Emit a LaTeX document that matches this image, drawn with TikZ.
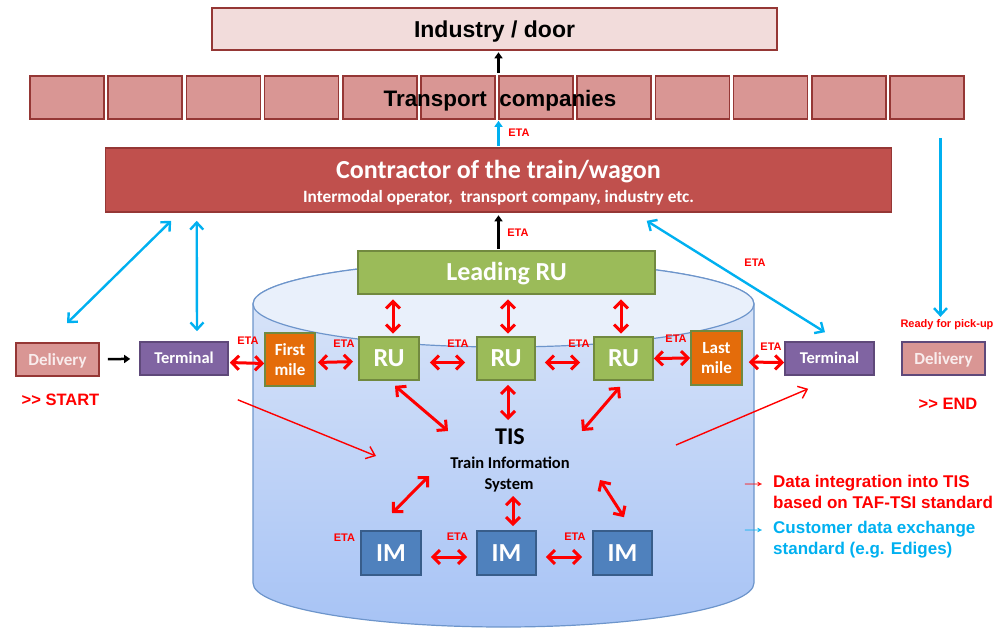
\documentclass[tikz,border=0pt]{standalone}
\usepackage{fontspec}
\usepackage{graphicx}
\setmainfont{Liberation Sans}
\newfontfamily\calfont{Carlito}
\usetikzlibrary{arrows.meta}
\definecolor{pinkL}{HTML}{F2DCDB}
\definecolor{pinkM}{HTML}{D99694}
\definecolor{dred}{HTML}{953735}
\definecolor{cred}{HTML}{C0504D}
\definecolor{gfill}{HTML}{9BBB59}
\definecolor{gline}{HTML}{71893F}
\definecolor{ofill}{HTML}{E46C0A}
\definecolor{pfill}{HTML}{8064A2}
\definecolor{pline}{HTML}{5F497A}
\definecolor{bfill}{HTML}{4F81BD}
\definecolor{bline}{HTML}{385D8A}
\definecolor{cyanA}{HTML}{00B0F0}
\definecolor{redA}{HTML}{FF0000}
\definecolor{cylTop}{HTML}{E9F0FB}
\definecolor{cylHi}{HTML}{DDE7F9}
\definecolor{cylLo}{HTML}{A7C3F5}
\definecolor{cylLine}{HTML}{6D95CB}
\newcommand\fsz[1]{\fontsize{#1}{#1}\selectfont}
\begin{document}
\begin{tikzpicture}[x=1pt,y=-1pt,
  capht/.style={text height=#1, text depth=0pt},
  base/.style={rectangle, inner sep=0pt, line width=1.6pt, align=center},
  indbox/.style={base, fill=pinkL, draw=dred, font=\bfseries\fsz{23}, capht=16.5pt},
  tcbox/.style={base, fill=pinkM, draw=dred, minimum width=74, minimum height=43},
  contrbox/.style={base, fill=cred, draw=dred, minimum width=786, minimum height=64},
  grbox/.style={base, fill=gfill, draw=gline, text=white, font=\calfont\bfseries\fsz{26}, capht=16.7pt},
  milebox/.style={base, fill=ofill, draw=gline, text=white, minimum width=50, minimum height=53, font=\calfont\bfseries\fontsize{17}{20}\selectfont},
  termbox/.style={base, fill=pfill, draw=pline, text=white, minimum width=88, minimum height=33, font=\calfont\bfseries\fsz{16.5}, capht=10.6pt},
  delbox/.style={base, fill=pinkM, minimum width=83, minimum height=33, text=pinkL!50!white, font=\calfont\bfseries\fsz{17}, capht=11pt},
  imbox/.style={base, fill=bfill, draw=bline, text=white, minimum width=59, minimum height=44, font=\calfont\bfseries\fsz{26}, capht=16.7pt},
  plain/.style={inner sep=0pt},
  eta/.style={plain, text=redA, font=\bfseries\fsz{11}, capht=7.9pt},
  redtxt/.style={plain, text=redA, font=\bfseries\fsz{16.5}, capht=11.8pt},
  legtxt/.style={plain, anchor=base west, font=\bfseries\fsz{17}},
  rarr/.style={draw=redA, line width=3pt, {Straight Barb[length=7pt,width=14pt]}-{Straight Barb[length=7pt,width=14pt]}},
  cyarr/.style={draw=cyanA, line width=2.4pt, {Straight Barb[length=7pt,width=13pt]}-{Straight Barb[length=7pt,width=13pt]}},
  cyone/.style={draw=cyanA, line width=2.4pt, -{Straight Barb[length=7pt,width=13pt]}},
  thinred/.style={draw=redA, line width=1.4pt, -{Straight Barb[length=8pt,width=13pt]}},
  blk/.style={draw=black, line width=2.5pt, -{Triangle[length=6pt,width=8pt]}},
  cyeta/.style={draw=cyanA, line width=2.5pt, -{Triangle[length=6pt,width=8pt]}}
]
\useasboundingbox (0,0) rectangle (997,629);

% cylinder
\path[top color=cylHi, bottom color=cylLo, draw=cylLine, line width=1.2pt]
  (253,304) -- (253,583) arc[start angle=180, end angle=360, x radius=250.5pt, y radius=44pt]
  -- (754,304) arc[start angle=0, end angle=180, x radius=250.5pt, y radius=43pt] -- cycle;
\draw[fill=cylTop, draw=cylLine, line width=1.2pt] (503.5,304) ellipse [x radius=250.5pt, y radius=43pt];

% top boxes
\node[indbox, minimum width=565, minimum height=42] (ind) at (494.5,29) {Industry / door};
\foreach \i in {0,...,11} \node[tcbox] (tb\i) at ({67+\i*78.18},97.5) {};
\node[plain, font=\bfseries\fsz{22.4}, capht=16pt] (tc) at (500,98) {Transport~~companies};
\node[contrbox] (contr) at (498.5,180) {};
\node[plain, text=white, font=\calfont\bfseries\fsz{26}, capht=16.7pt] (contrT) at (498.5,170.5) {Contractor of the train/wagon};
\node[plain, text=white, font=\calfont\bfseries\fsz{17.3}, capht=11.1pt] (contrS) at (498.5,196.5) {Intermodal operator,~~transport company, industry etc.};

% leading RU and RUs
\node[grbox, minimum width=297, minimum height=43] (lead) at (506.5,272.5) {Leading RU};
\node[grbox, minimum width=60, minimum height=43] (ru1) at (389,358.5) {RU};
\node[grbox, minimum width=58, minimum height=43] (ru2) at (506,358.5) {RU};
\node[grbox, minimum width=59, minimum height=43] (ru3) at (623.5,358.5) {RU};
\node[milebox] (first) at (290,359.5) {First\\mile};
\node[milebox, minimum width=51, minimum height=54] (last) at (716.5,358) {Last\\mile};

% terminals and deliveries
\node[delbox, draw=dred] (delL) at (57.5,359.5) {Delivery};
\node[termbox] (termL) at (184,358.5) {Terminal};
\node[termbox, minimum width=89] (termR) at (829.5,358.5) {Terminal};
\node[delbox, draw=pline] (delR) at (943.5,358.5) {Delivery};
\node[redtxt] (start) at (60.5,399.5) {{>}{>} START};
\node[redtxt] (endt) at (948,404) {{>}{>} END};
\node[eta] (ready) at (947,324) {Ready for pick-up};

% TIS
\node[plain, font=\calfont\bfseries\fsz{24}, capht=15.5pt] (tis) at (510,437) {TIS};
\node[plain, font=\calfont\bfseries\fsz{16.5}, capht=10.6pt] (tisd1) at (510,463.5) {Train Information};
\node[plain, font=\calfont\bfseries\fsz{16.5}, capht=10.6pt] (tisd2) at (509,484) {System};
\coordinate (tisA) at (448,431);
\coordinate (tisB) at (508,420);
\coordinate (tisC) at (582,431);
\coordinate (tisD) at (429,476);
\coordinate (tisE) at (513,496);
\coordinate (tisF) at (600,480);
\coordinate (tisL) at (376,456);
\coordinate (tisR) at (676,445);

% IMs
\node[imbox, minimum width=60] (im1) at (391,553) {IM};
\node[imbox] (im2) at (506.5,553) {IM};
\node[imbox] (im3) at (622.5,553) {IM};

% ETA labels
\node[eta] (eTC) at (519,133) {ETA};
\node[eta] (eLead) at (518,233) {ETA};
\node[eta] (eTopR) at (755,263) {ETA};
\node[eta] (e1) at (248,341) {ETA};
\node[eta] (e2) at (344,344) {ETA};
\node[eta] (e3) at (458,344) {ETA};
\node[eta] (e4) at (579,344) {ETA};
\node[eta] (e5) at (676,339) {ETA};
\node[eta] (e6) at (771,347) {ETA};
\node[eta] (e7) at (344.5,537.5) {ETA};
\node[eta] (e8) at (457.5,537) {ETA};
\node[eta] (e9) at (575,537) {ETA};

% legend
\node[legtxt, anchor=base east, font=\fsz{18}, text=redA] (lgA1) at (768,487) {\scalebox{1.6}[1]{→}};
\node[legtxt, text=redA] (lg1) at (773,487) {Data integration into TIS};
\node[legtxt, text=redA] (lg2) at (773,508) {based on TAF-TSI standard};
\node[legtxt, anchor=base east, font=\fsz{18}, text=cyanA] (lgA2) at (768,533) {\scalebox{1.6}[1]{→}};
\node[legtxt, text=cyanA] (lg3) at (773,533) {Customer data exchange};
\node[legtxt, text=cyanA] (lg4) at (773,554) {standard (e.g. Ediges)};

% black and cyan vertical arrows in the middle
\draw[blk, shorten <=2pt, shorten >=1.5pt] (contr.north |- tb0.north) -- (contr.north |- ind.south);
\draw[cyeta, shorten <=1pt, shorten >=1pt] (contr.north) -- (contr.north |- tb0.south);
\draw[blk, shorten <=1pt, shorten >=2.5pt] (contr.south |- lead.north) -- (contr.south);
\draw[blk, shorten <=8pt, shorten >=9pt] (delL) -- (termL);

% cyan arrows
\draw[cyarr] ([xshift=66.5pt,yshift=-8pt]contr.south west) -- ([xshift=9.5pt,yshift=19pt]delL.north);
\draw[cyarr] ([xshift=92pt,yshift=-8pt]contr.south west) -- ([xshift=13pt,yshift=10pt]termL.north);
\draw[cyarr] ([xshift=542pt,yshift=-8pt]contr.south west) -- ([xshift=-4.5pt,yshift=9pt]termR.north);
\coordinate (rp) at ([xshift=13.5pt,yshift=-18pt]tb11.south);
\draw[cyone, shorten >=3pt] (rp) -- (rp |- ready.north);

% red chain arrows
\draw[rarr, shorten <=1pt] ([yshift=-4pt]termL.east) -- ([yshift=-4pt]first.west);
\draw[rarr, shorten <=2.2pt, shorten >=5.2pt] ([yshift=-3pt]first.east) -- ([yshift=-3pt]ru1.west);
\draw[rarr, shorten <=10pt, shorten >=11pt] ([yshift=-4pt]ru1.east) -- ([yshift=-4pt]ru2.west);
\draw[rarr, shorten <=9pt, shorten >=13pt] ([yshift=-4pt]ru2.east) -- ([yshift=-4pt]ru3.west);
\draw[rarr] (ru3.east) -- (last.west);
\draw[rarr, shorten <=6pt] ([yshift=-4pt]last.east) -- ([yshift=-4pt]termR.west);
\draw[rarr, shorten <=9pt, shorten >=9pt] ([yshift=-4pt]im1.east) -- ([yshift=-4pt]im2.west);
\draw[rarr, shorten <=9pt, shorten >=10pt] ([yshift=-4pt]im2.east) -- ([yshift=-4pt]im3.west);

% leading RU to RUs
\draw[rarr, shorten <=4.5pt, shorten >=2.5pt] ([xshift=4pt]ru1.north |- lead.south) -- ([xshift=4pt]ru1.north);
\draw[rarr, shorten <=4.5pt, shorten >=2.5pt] ([xshift=2pt]ru2.north |- lead.south) -- ([xshift=2pt]ru2.north);
\draw[rarr, shorten <=4.5pt, shorten >=2.5pt] ([xshift=-2.5pt]ru3.north |- lead.south) -- ([xshift=-2.5pt]ru3.north);

% RUs and IMs to TIS
\draw[rarr] ([xshift=6pt,yshift=-5pt]ru1.south) -- (tisA);
\draw[rarr] ([xshift=2pt,yshift=-4pt]ru2.south) -- (tisB);
\draw[rarr] ([xshift=-3.5pt,yshift=-6pt]ru3.south) -- (tisC);
\draw[rarr] (tisD) -- ([xshift=1pt,yshift=17pt]im1.north);
\draw[rarr] (tisE) -- ([xshift=6.5pt,yshift=4pt]im2.north);
\draw[rarr] (tisF) -- ([xshift=1.5pt,yshift=13pt]im3.north);

% long thin red arrows
\draw[thinred] ([xshift=9pt,yshift=-24pt]termL.south east) -- (tisL);
\draw[thinred] (tisR) -- ([xshift=24pt,yshift=-13pt]termR.south west);
\end{tikzpicture}
\end{document}
